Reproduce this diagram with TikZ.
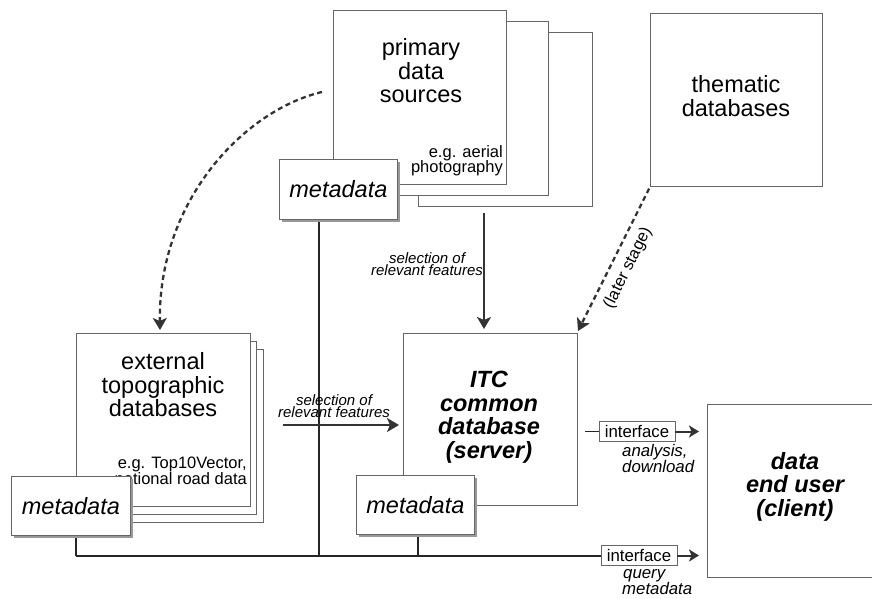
\documentclass[tikz,border=0pt]{standalone}
\usepackage{fontspec}
\setmainfont{Liberation Sans}
\usetikzlibrary{arrows.meta,shadows}
\begin{document}
\begin{tikzpicture}[x=1pt,y=-1pt,
 box/.style={draw=black!60, line width=0.8pt, fill=white, anchor=north west, inner sep=0pt},
 meta/.style={box, drop shadow={shadow xshift=2.5pt, shadow yshift=-2.5pt, fill=black!40, opacity=1}},
 big/.style={font=\fontsize{23.5}{23.5}\selectfont, align=center, inner sep=0pt},
 bigbi/.style={font=\fontsize{23.5}{23.5}\selectfont\bfseries\itshape, align=center, inner sep=0pt},
 metatext/.style={font=\fontsize{23.5}{23.5}\selectfont\itshape, inner sep=0pt},
 note/.style={font=\fontsize{16.5}{15.5}\selectfont, align=right, inner sep=0pt},
 small/.style={font=\fontsize{15}{12.5}\selectfont\itshape, align=center, inner sep=0pt},
 lbl/.style={font=\fontsize{16.8}{15}\selectfont\itshape, align=left, inner sep=0pt, anchor=west},
 arr/.style={draw=black!80, line width=2pt, -{Stealth[length=12pt,width=14pt,inset=3pt]}},
 dasharr/.style={draw=black!80, line width=2.3pt, dash pattern=on 5pt off 3.5pt, -{Stealth[length=12pt,width=14pt,inset=3pt]}},
 iarr/.style={draw=black!80, line width=2pt, -{Stealth[length=10pt,width=12pt,inset=2.5pt]}},
 conn/.style={draw=black!85, line width=1.6pt},
 iface/.style={draw=black!60, line width=0.8pt, fill=white, minimum width=76pt, minimum height=20pt, inner sep=0pt, font=\fontsize{16.8}{16.8}\selectfont}
]
\useasboundingbox (0,0) rectangle (872,599);
\clip (0,0) rectangle (872,599);

% connector junctions
\coordinate (jl) at (76,556);
\coordinate (jm) at (319,556);
\coordinate (ji) at (418,556);

% primary data sources stack
\node[box, minimum width=174pt, minimum height=174pt] (prim3) at (418,32) {};
\node[box, minimum width=172pt, minimum height=174pt] (prim2) at (376,21) {};
\node[box, minimum width=173pt, minimum height=174pt] (prim) at (333,10) {};
\node[big] (primt) at (421,71) {primary\\data\\sources};
\node[note, anchor=east] (primn) at (503,160.5) {e.g. aerial\\photography};

% thematic databases
\node[box, minimum width=172pt, minimum height=173pt] (them) at (650,13) {};
\node[big] (themt) at (736,96) {thematic\\databases};

% ITC common database
\node[box, minimum width=174pt, minimum height=172pt] (itc) at (403,333) {};
\node[bigbi] (itct) at (489,417) {ITC\\common\\database\\(server)};

% external topographic stack
\node[box, minimum width=171pt, minimum height=173pt] (ext3) at (92,349) {};
\node[box, minimum width=172pt, minimum height=173pt] (ext2) at (84,341) {};
\node[box, minimum width=174pt, minimum height=173pt] (ext) at (76,333) {};
\node[big] (extt) at (163,385) {external\\topographic\\databases};
\node[note, anchor=east] (extn) at (247,471) {e.g. Top10Vector,\\national road data};

% end user
\node[box, minimum width=180pt, minimum height=173pt] (user) at (707,404) {};
\node[bigbi] (usert) at (795,486.5) {data\\end user\\(client)};

% bus lines
\draw[conn] (jl) -- (601,556);
\draw[conn] (319,219) -- (jm);
\draw[conn] (418,534) -- (ji);
\draw[conn] (76,535) -- (jl);

% metadata boxes
\node[meta, minimum width=118pt, minimum height=60pt] (mprim) at (279,159) {};
\node[metatext] at (mprim.center) (mprimt) {metadata};
\node[meta, minimum width=118pt, minimum height=59pt] (mitc) at (356,475) {};
\node[metatext] at (mitc.center) (mitct) {metadata};
\node[meta, minimum width=119pt, minimum height=59pt] (mext) at (11,476) {};
\node[metatext] at (mext.center) (mextt) {metadata};

% interfaces
\node[iface] (if1) at (637,431.5) {interface};
\node[iface] (if2) at (639,555.5) {interface};
\coordinate (if1in) at (585,431.5);
\draw[conn] (if1in) -- (if1.west);
\draw[iarr] (if1.east) -- (699,431.5);
\draw[iarr] (if2.east) -- (699,555.5);
\node[lbl] (if1l) at (622,458.5) {analysis,\\download};
\node[lbl] (if2l) at (622,582) {\hspace*{1pt}query\\metadata};

% selection arrows
\coordinate (selv) at (484,213);
\draw[arr] (selv) -- (484,329);
\node[small] (selvl) at (427,264) {selection of\\relevant features};
\coordinate (selh) at (283,425);
\draw[arr] (selh) -- (399,425);
\node[small] (selhl) at (334,406) {selection of\\relevant features};

% dashed arrows
\coordinate (dstart) at (322,92);
\coordinate (dend) at (160,330);
\draw[dasharr] (dstart) .. controls (245,110) and (158,200) .. (dend);
\draw[dasharr, shorten <=2pt] (them.south west) -- (578,331);
\node[font=\fontsize{16.5}{16.5}\selectfont, rotate=63.5, inner sep=0pt] (later) at (628,268) {(later stage)};
\end{tikzpicture}
\end{document}
